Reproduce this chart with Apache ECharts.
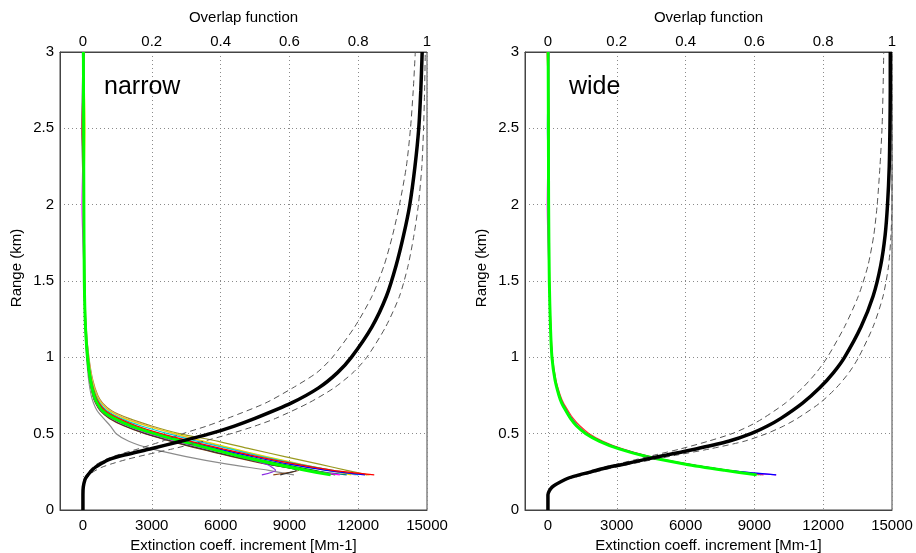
<!DOCTYPE html>
<html><head><meta charset="utf-8">
<script src="https://cdn.jsdelivr.net/npm/echarts@6/dist/echarts.min.js"></script>
<style>html,body{margin:0;padding:0;background:#fff}#c{width:916px;height:553px}</style>
</head><body><div id="c"></div>
<script>
// ---------- tick labels ----------
const extTicks = [0, 3000, 6000, 9000, 12000, 15000];
const ovlTicks = [0, 0.2, 0.4, 0.6, 0.8, 1];
const panelNames = ['narrow', 'wide'];

// ---------- extinction coefficient increment (Mm-1) vs range (km) ----------
const rangeExt = [3.0, 2.5, 2.0, 1.5, 1.2, 1.0, 0.85, 0.75, 0.7, 0.65, 0.6, 0.55, 0.5, 0.45, 0.4, 0.35, 0.3, 0.26, 0.23];

// narrow field of view: ensemble members
const nRed     = [40, -30, 60, 70, 120, 220, 360, 540, 700, 980, 1550, 2350, 3400, 4700, 6100, 7600, 9300, 10900, 12700];
const nBlue    = [-20, 25, 40, 65, 115, 210, 340, 500, 650, 900, 1400, 2200, 3200, 4500, 5900, 7400, 9000, 10600, 12300];
const nMagenta = [60, 30, -40, 60, 105, 190, 310, 450, 580, 800, 1250, 1950, 2900, 4100, 5400, 6800, 8400, 9800, 11200];
const nCyan    = [30, 35, 50, 75, 125, 230, 370, 560, 740, 1050, 1650, 2550, 3700, 5000, 6400, 7800, 9400, 10900, 12000];
const nYellow  = [20, 90, 40, 65, 120, 240, 400, 600, 800, 1150, 1800, 2800, 4000, 5300, 6600, 8000, 9500, 10800, 11700];
const nBlack   = [10, 20, 35, 55, 100, 180, 300, 440, 570, 780, 1200, 1850, 2750, 3900, 5200, 6600, 8100, 9300, 8600];
const nGray    = [15, -60, 35, 50, 90, 160, 250, 360, 460, 620, 900, 1200, 1450, 2000, 3000, 4500, 6300, 8100, 9200];
const nOlive   = [30, 40, 55, 80, 140, 260, 430, 650, 860, 1250, 2000, 3000, 4200, 5900, 7300, 8800, 10300, 11500, 12400];
const nDkGreen = [20, 30, 45, 65, 115, 205, 330, 490, 640, 880, 1380, 2150, 3150, 4400, 5700, 7100, 8700, 10100, 11000];
const nPurple  = [25, 30, 40, 60, 110, 200, 320, 470, 610, 850, 1300, 2050, 3000, 4200, 5500, 6800, 8000, 8400, 7800];
const nOrange  = [35, 20, 45, 70, 120, 215, 350, 520, 680, 950, 1500, 2300, 3350, 4600, 6000, 7500, 9100, 10700, 12500];
const nTeal    = [15, 40, 35, 60, 110, 195, 320, 470, 610, 830, 1300, 2000, 2950, 4150, 5450, 6900, 8500, 9900, 11500];
const nBrown   = [25, 15, 50, 60, 105, 185, 300, 430, 550, 760, 1150, 1800, 2700, 3850, 5100, 6500, 8000, 9400, 8300];
const nPink    = [20, 50, 30, 70, 130, 250, 410, 620, 820, 1180, 1850, 2850, 3950, 5200, 6500, 7900, 9400, 10700, 11900];
const nGreen   = [20, 30, 40, 60, 110, 200, 330, 480, 620, 850, 1350, 2100, 3100, 4300, 5600, 6900, 8400, 9700, 10800];

// wide field of view: ensemble members
const wRed     = [-40, 60, 40, 70, 125, 200, 350, 540, 680, 880, 1100, 1400, 1800, 2400, 3250, 4450, 6150, 7850, 9400];
const wBlue    = [30, -20, 35, 65, 115, 185, 325, 500, 630, 820, 1030, 1300, 1700, 2320, 3180, 4400, 6100, 7850, 9950];
const wMagenta = [50, 25, -30, 55, 110, 180, 320, 495, 620, 800, 1010, 1280, 1680, 2300, 3150, 4380, 6080, 7800, 9950];
const wYellow  = [15, 30, 40, 70, 120, 190, 330, 505, 635, 815, 1020, 1290, 1690, 2290, 3130, 4330, 6030, 7730, 9200];
const wCyan    = [20, 35, 25, 60, 105, 170, 305, 470, 590, 770, 970, 1240, 1640, 2240, 3090, 4290, 5990, 7700, 9300];
const wGreen   = [10, 20, 30, 60, 110, 175, 310, 480, 600, 780, 980, 1250, 1650, 2250, 3100, 4300, 6000, 7700, 9100];

// ---------- overlap function vs range (km) ----------
const rangeOvl = [0, 0.1, 0.15, 0.2, 0.22, 0.25, 0.28, 0.3, 0.33, 0.36, 0.4, 0.45, 0.5, 0.55, 0.6, 0.7, 0.8, 0.9, 1.0, 1.2, 1.4, 1.6, 1.8, 2.0, 2.25, 2.5, 2.75, 3.0];
const ovlNarrow    = [0, 0, 0.001, 0.006, 0.011, 0.022, 0.036, 0.05, 0.075, 0.12, 0.195, 0.285, 0.37, 0.44, 0.5, 0.605, 0.685, 0.74, 0.78, 0.84, 0.882, 0.91, 0.932, 0.95, 0.965, 0.976, 0.982, 0.986];
const ovlNarrowLo  = [0, 0, 0, 0.004, 0.008, 0.016, 0.028, 0.04, 0.065, 0.1, 0.16, 0.23, 0.29, 0.36, 0.42, 0.53, 0.61, 0.68, 0.725, 0.79, 0.84, 0.875, 0.9, 0.92, 0.94, 0.952, 0.96, 0.966];
const ovlNarrowHi  = [0, 0, 0.002, 0.008, 0.015, 0.03, 0.055, 0.08, 0.125, 0.18, 0.26, 0.35, 0.43, 0.5, 0.56, 0.655, 0.73, 0.785, 0.825, 0.88, 0.92, 0.945, 0.962, 0.975, 0.985, 0.99, 0.993, 0.995];
const ovlWide      = [0, 0, 0.012, 0.05, 0.075, 0.125, 0.175, 0.22, 0.28, 0.345, 0.43, 0.525, 0.59, 0.638, 0.677, 0.74, 0.79, 0.83, 0.862, 0.91, 0.945, 0.967, 0.98, 0.987, 0.992, 0.994, 0.995, 0.995];
const ovlWideLo    = [0, 0, 0.011, 0.045, 0.072, 0.118, 0.163, 0.2, 0.255, 0.31, 0.385, 0.465, 0.535, 0.585, 0.625, 0.69, 0.74, 0.78, 0.812, 0.862, 0.902, 0.93, 0.947, 0.957, 0.965, 0.971, 0.974, 0.976];
const ovlWideHi    = [0, 0, 0.013, 0.055, 0.088, 0.14, 0.195, 0.238, 0.305, 0.375, 0.47, 0.57, 0.635, 0.685, 0.725, 0.79, 0.838, 0.875, 0.903, 0.945, 0.974, 0.99, 0.997, 1.0, 1.0, 1.0, 1.0, 1.0];

// ---------- chart ----------
const FONT = 'Liberation Sans, Arial, Helvetica, sans-serif';
const AX = '#444';
const GRIDLINE = {show: true, lineStyle: {color: '#8a8a8a', type: [1, 3], width: 1}};
const txt = {color: '#000', fontFamily: FONT, fontSize: 15};
const plain = v => String(Math.round(v * 1000) / 1000);

const gridsPos = [60, 525];
const grids = gridsPos.map(l => ({left: l, top: 52, width: 367, height: 458, show: true, borderColor: AX, borderWidth: 1, backgroundColor: 'transparent', outerBoundsMode: 'none', containLabel: false}));

const xAxes = [];
const yAxes = [];
gridsPos.forEach((l, gi) => {
  xAxes.push({
    type: 'value', gridIndex: gi, position: 'bottom', min: -1000, max: 15000,
    name: 'Extinction coeff. increment [Mm-1]', nameLocation: 'middle', nameGap: 24,
    nameTextStyle: txt,
    axisLine: {show: true, onZero: false, lineStyle: {color: AX}},
    axisTick: {show: false, customValues: extTicks},
    axisLabel: Object.assign({customValues: extTicks, margin: 8, formatter: plain}, txt),
    splitLine: GRIDLINE
  });
  xAxes.push({
    type: 'value', gridIndex: gi, position: 'top', min: -1 / 15, max: 1,
    name: 'Overlap function', nameLocation: 'middle', nameGap: 27,
    nameTextStyle: txt,
    axisLine: {show: true, onZero: false, lineStyle: {color: AX}},
    axisTick: {show: false, customValues: ovlTicks},
    axisLabel: Object.assign({customValues: ovlTicks, margin: 3, formatter: plain}, txt),
    splitLine: {show: false}
  });
  yAxes.push({
    type: 'value', gridIndex: gi, min: 0, max: 3, interval: 0.5,
    name: 'Range (km)', nameLocation: 'middle', nameGap: 36,
    nameTextStyle: Object.assign({padding: [0, 0, 0, 26]}, txt),
    axisLine: {show: true, onZero: false, lineStyle: {color: AX}},
    axisTick: {show: false},
    axisLabel: Object.assign({margin: 6, formatter: plain}, txt),
    splitLine: GRIDLINE
  });
});

function line(xs, ys, xi, yi, color, width, z, dashed) {
  return {
    type: 'line', xAxisIndex: xi, yAxisIndex: yi,
    data: ys.map((r, i) => [xs[i], r]),
    symbol: 'none', smooth: 0.25, clip: true, silent: true, animation: false,
    lineStyle: {color: color, width: width, type: dashed ? [6, 4] : 'solid'},
    z: z
  };
}

const series = [];
// narrow panel
[[nGray,'#8c8c8c'],[nOlive,'#9a9a20'],[nBrown,'#8b4513'],[nBlack,'#333333'],[nPurple,'#8a2be2'],[nPink,'#ff69b4'],
 [nYellow,'#e0e000'],[nCyan,'#00d0d0'],[nTeal,'#008080'],[nDkGreen,'#008000'],[nOrange,'#ff8c00'],
 [nMagenta,'#ff00ff'],[nBlue,'#0000ff'],[nRed,'#ff0000']].forEach(([v,c]) => series.push(line(v, rangeExt, 0, 0, c, 1.2, 2)));
series.push(line(nGreen, rangeExt, 0, 0, '#00ff00', 3, 3));
series.push(line(ovlNarrowLo, rangeOvl, 1, 0, '#555', 1, 4, true));
series.push(line(ovlNarrowHi, rangeOvl, 1, 0, '#555', 1, 4, true));
series.push(line(ovlNarrow, rangeOvl, 1, 0, '#000', 3.5, 5));
// wide panel
[[wYellow,'#e0e000'],[wCyan,'#00d0d0'],[wRed,'#ff3030'],[wMagenta,'#ff00ff'],[wBlue,'#0000ff']].forEach(([v,c]) => series.push(line(v, rangeExt, 2, 1, c, 1.2, 2)));
series.push(line(wGreen, rangeExt, 2, 1, '#00ff00', 3, 3));
series.push(line(ovlWideLo, rangeOvl, 3, 1, '#555', 1, 4, true));
series.push(line(ovlWideHi, rangeOvl, 3, 1, '#555', 1, 4, true));
series.push(line(ovlWide, rangeOvl, 3, 1, '#000', 3.5, 5));

const titles = [
  {text: panelNames[0], left: 99, top: 70, textStyle: {fontSize: 25, fontWeight: 'normal', color: '#000', fontFamily: FONT}},
  {text: panelNames[1], left: 564, top: 70, textStyle: {fontSize: 25, fontWeight: 'normal', color: '#000', fontFamily: FONT}}
];

const chart = echarts.init(document.getElementById('c'), null, {renderer: 'canvas'});
chart.setOption({
  animation: false,
  backgroundColor: '#fff',
  title: titles,
  grid: grids,
  xAxis: xAxes,
  yAxis: yAxes,
  series: series
});
</script></body></html>
